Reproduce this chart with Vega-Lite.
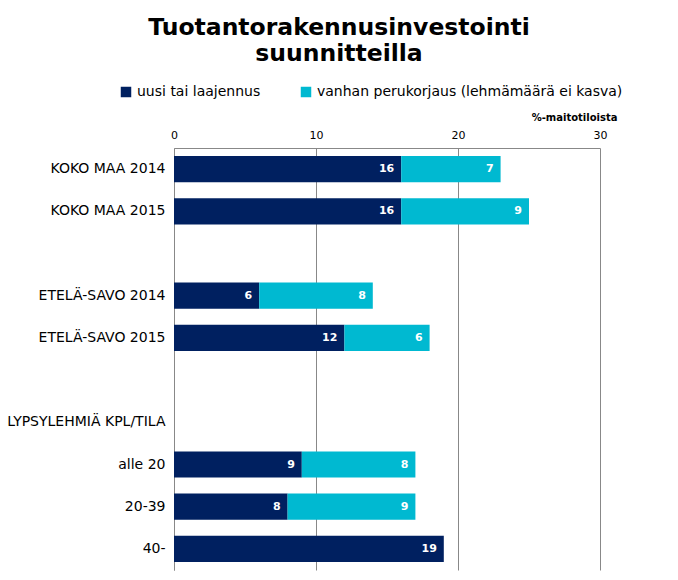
{
  "$schema": "https://vega.github.io/schema/vega-lite/v6.json",
  "width": 426,
  "height": 422,
  "autosize": {"type": "none"},
  "padding": {"left": 174, "top": 148, "right": 78, "bottom": 10},
  "background": "white",
  "title": {
    "text": ["Tuotantorakennusinvestointi", "suunnitteilla"],
    "font": "DejaVu Sans",
    "fontSize": 23.5,
    "fontWeight": "bold",
    "lineHeight": 26,
    "color": "black",
    "anchor": "middle",
    "frame": "group",
    "dx": -48,
    "offset": 20
  },
  "data": {
    "values": [
      {"cat": "KOKO MAA  2014", "type": "uusi tai laajennus", "value": 16},
      {"cat": "KOKO MAA  2014", "type": "vanhan perukorjaus (lehmämäärä ei kasva)", "value": 7},
      {"cat": "KOKO MAA 2015", "type": "uusi tai laajennus", "value": 16},
      {"cat": "KOKO MAA 2015", "type": "vanhan perukorjaus (lehmämäärä ei kasva)", "value": 9},
      {"cat": "ETELÄ-SAVO 2014", "type": "uusi tai laajennus", "value": 6},
      {"cat": "ETELÄ-SAVO 2014", "type": "vanhan perukorjaus (lehmämäärä ei kasva)", "value": 8},
      {"cat": "ETELÄ-SAVO 2015", "type": "uusi tai laajennus", "value": 12},
      {"cat": "ETELÄ-SAVO 2015", "type": "vanhan perukorjaus (lehmämäärä ei kasva)", "value": 6},
      {"cat": "alle 20", "type": "uusi tai laajennus", "value": 9},
      {"cat": "alle 20", "type": "vanhan perukorjaus (lehmämäärä ei kasva)", "value": 8},
      {"cat": "20-39", "type": "uusi tai laajennus", "value": 8},
      {"cat": "20-39", "type": "vanhan perukorjaus (lehmämäärä ei kasva)", "value": 9},
      {"cat": "40-", "type": "uusi tai laajennus", "value": 19}
    ]
  },
  "transform": [
    {"stack": "value", "groupby": ["cat"], "sort": [{"field": "type", "order": "ascending"}], "as": ["v0", "v1"]}
  ],
  "encoding": {
    "y": {
      "field": "cat",
      "type": "nominal",
      "scale": {
        "domain": ["KOKO MAA  2014", "KOKO MAA 2015", "_1", "ETELÄ-SAVO 2014", "ETELÄ-SAVO 2015", "_2", "LYPSYLEHMIÄ KPL/TILA", "alle 20", "20-39", "40-"],
        "paddingInner": 0.38,
        "paddingOuter": 0.19
      },
      "axis": {
        "title": null,
        "ticks": false,
        "labelFont": "DejaVu Sans",
        "labelFontSize": 14,
        "labelColor": "black",
        "labelPadding": 9,
        "domainColor": "#888888",
        "labelExpr": "indexof(datum.label, '_') == 0 ? '' : datum.label",
        "labelLimit": 300
      }
    }
  },
  "layer": [
    {
      "mark": {"type": "bar"},
      "encoding": {
        "x": {
          "field": "v0",
          "type": "quantitative",
          "scale": {"domain": [0, 30], "nice": false},
          "axis": {
            "orient": "top",
            "values": [0, 10, 20, 30],
            "title": "%-maitotiloista",
            "titleFont": "DejaVu Sans",
            "titleFontSize": 10,
            "titleFontWeight": "bold",
            "titleColor": "black",
            "titleAnchor": "end",
            "titleAlign": "right",
            "titleX": 443,
            "titleY": -26,
            "ticks": false,
            "labelFlush": false,
            "labelFont": "DejaVu Sans",
            "labelFontSize": 11,
            "labelColor": "black",
            "labelPadding": 8,
            "domainColor": "#888888",
            "grid": true,
            "gridColor": "#888888",
            "gridOpacity": 1
          }
        },
        "x2": {"field": "v1"},
        "color": {
          "field": "type",
          "type": "nominal",
          "scale": {
            "domain": ["uusi tai laajennus", "vanhan perukorjaus (lehmämäärä ei kasva)"],
            "range": ["#002060", "#00B9D1"]
          },
          "legend": {
            "title": null,
            "orient": "none",
            "direction": "horizontal",
            "legendX": -55,
            "legendY": -63,
            "symbolType": "square",
            "symbolSize": 110,
            "symbolStrokeWidth": 0,
            "symbolOpacity": 1,
            "labelFont": "DejaVu Sans",
            "labelFontSize": 14,
            "labelColor": "black",
            "labelLimit": 400,
            "columnPadding": 38,
            "labelOffset": 4
          }
        }
      }
    },
    {
      "mark": {"type": "text", "align": "right", "dx": -7, "font": "DejaVu Sans", "fontSize": 11, "fontWeight": "bold", "color": "white"},
      "encoding": {
        "x": {"field": "v1", "type": "quantitative"},
        "text": {"field": "value", "type": "quantitative"}
      }
    }
  ],
  "config": {"view": {"stroke": null}}
}
